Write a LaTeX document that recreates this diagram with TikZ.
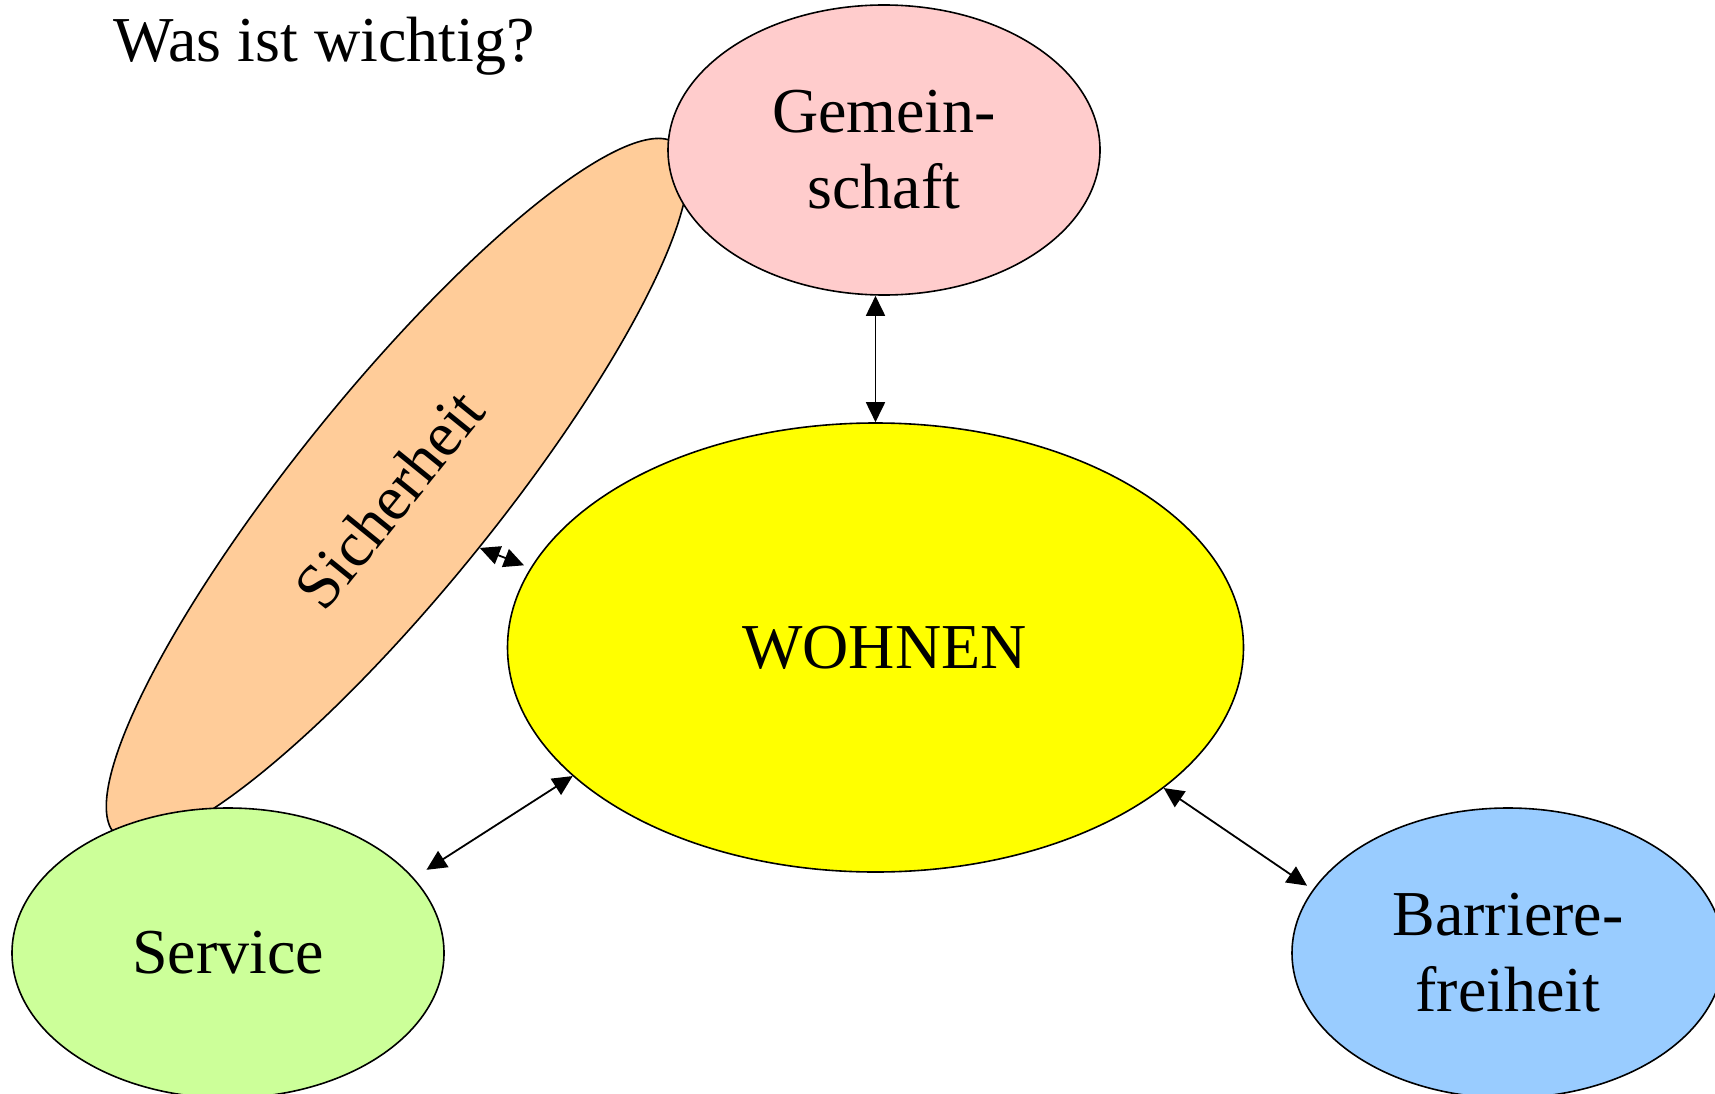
\documentclass[tikz,border=0pt]{standalone}
\usepackage{fontspec}
\setmainfont{Liberation Serif}
\usetikzlibrary{shapes.geometric,arrows.meta}
\definecolor{sicher}{HTML}{FFCC99}
\definecolor{gemein}{HTML}{FFCCCC}
\definecolor{wohnen}{HTML}{FFFF00}
\definecolor{service}{HTML}{CCFF99}
\definecolor{barriere}{HTML}{99CCFF}
\begin{document}
\begin{tikzpicture}[x=1pt,y=-1pt,
  blob/.style={ellipse, draw=black, line width=1.6pt, inner sep=0pt,
    minimum width=432pt, minimum height=290pt, align=center,
    font=\fontsize{64}{76}\selectfont},
  link/.style={{Triangle[length=20pt,width=19pt]}-{Triangle[length=20pt,width=19pt]},
    line width=1.8pt}]
\useasboundingbox (0,0) rectangle (1715,1094);

% title
\node[anchor=base west, inner sep=0pt, font=\fontsize{64}{76}\selectfont] (title) at (113,62) {Was ist wichtig?};

% the slanted band lies underneath the other ellipses
\node[blob, fill=sicher, rotate=51, minimum width=890pt, minimum height=200pt] (sich) at (397,490) {\hspace*{-24pt}Sicherheit};

\node[blob, fill=gemein] (gem) at (884,150) {Gemein-\\schaft};
\node[blob, fill=service] (serv) at (228,953) {Service};
\node[blob, fill=barriere] (barr) at (1508,953) {Barriere-\\freiheit};
\node[blob, fill=wohnen, minimum width=736pt, minimum height=449pt] (wohn) at (875.5,647.5) {\hspace*{18pt}WOHNEN};

% connectors
\draw[link] (wohn.north |- gem.south) -- (wohn.north);
\draw[link, shorten >=7pt] (sich.-86) -- (wohn.167);
\draw[link, shorten <=15pt] (serv.22) -- (wohn.203);
\draw[link, shorten >=7pt] (wohn.334) -- (barr.162);
\end{tikzpicture}
\end{document}
